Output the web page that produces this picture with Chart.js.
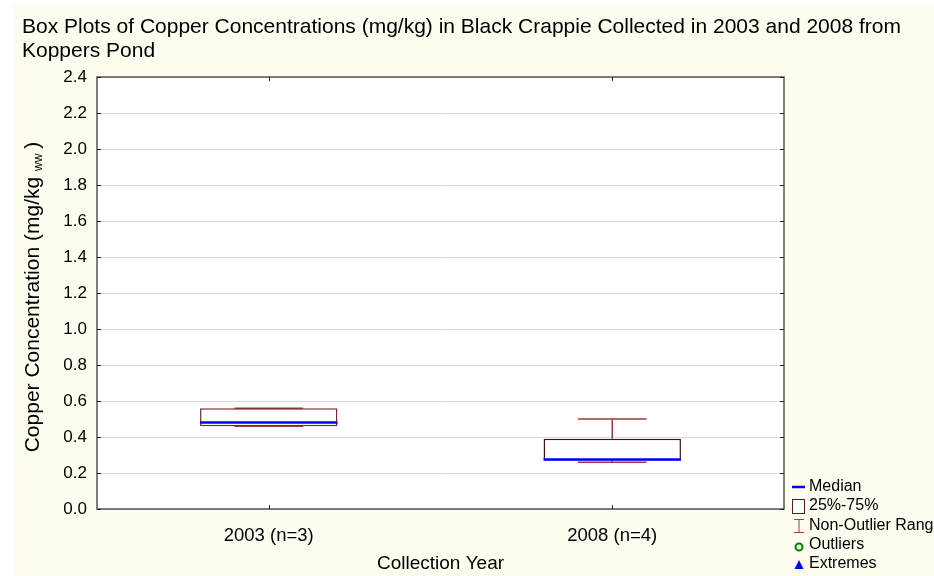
<!DOCTYPE html>
<html>
<head>
<meta charset="utf-8">
<script src="https://cdn.jsdelivr.net/npm/chart.js@4"></script>
<style>
  body { margin: 0; background: #ffffff; }
  #wrap { width: 934px; height: 576px; position: relative; }
</style>
</head>
<body>
<div id="wrap"><canvas id="myChart" width="934" height="576"></canvas></div>
<script>
// Données
const categories = ['2003 (n=3)', '2008 (n=4)'];
const minVals = [0.46, 0.26];
const q1Vals = [0.46, 0.27];
const medianVals = [0.48, 0.275];
const q3Vals = [0.56, 0.39];
const maxVals = [0.56, 0.50];
const yMin = 0, yMax = 2.4, yStep = 0.2;

const FONT = "'Liberation Sans', Arial, sans-serif";
const boxColors = ['#7a2a2a', '#4a0d0d'];
const whiskerColor = '#a03a3a';

// Plugin : fond, cadre, moustaches, médianes, titres et légende
const boxPlotPlugin = {
  id: 'boxPlot',
  beforeDraw(chart) {
    const ctx = chart.ctx, a = chart.chartArea;
    ctx.save();
    ctx.fillStyle = '#fefbef';
    ctx.fillRect(13, 5, chart.width - 13, chart.height - 5);
    ctx.fillStyle = '#ffffff';
    ctx.fillRect(a.left, a.top, a.right - a.left, a.bottom - a.top);
    ctx.restore();
  },
  beforeDatasetsDraw(chart) {
    const ctx = chart.ctx, a = chart.chartArea;
    const x = chart.scales.x, y = chart.scales.y;
    const catW = (a.right - a.left) / categories.length;
    ctx.save();
    // moustaches (sous les boîtes)
    categories.forEach((c, i) => {
      const cx = x.getPixelForValue(i);
      const capW = catW * 0.2;
      ctx.strokeStyle = whiskerColor;
      ctx.lineWidth = 1.5;
      ctx.beginPath();
      ctx.moveTo(cx, y.getPixelForValue(q3Vals[i]));
      ctx.lineTo(cx, y.getPixelForValue(maxVals[i]));
      ctx.moveTo(cx - capW / 2, y.getPixelForValue(maxVals[i]));
      ctx.lineTo(cx + capW / 2, y.getPixelForValue(maxVals[i]));
      ctx.moveTo(cx, y.getPixelForValue(q1Vals[i]));
      ctx.lineTo(cx, y.getPixelForValue(minVals[i]));
      ctx.moveTo(cx - capW / 2, y.getPixelForValue(minVals[i]));
      ctx.lineTo(cx + capW / 2, y.getPixelForValue(minVals[i]));
      ctx.stroke();
    });
    ctx.restore();
  },
  afterDatasetsDraw(chart) {
    const ctx = chart.ctx, a = chart.chartArea;
    const x = chart.scales.x, y = chart.scales.y;
    const catW = (a.right - a.left) / categories.length;
    ctx.save();

    // médianes
    categories.forEach((c, i) => {
      const cx = x.getPixelForValue(i);
      const bw = catW * 0.4;
      ctx.strokeStyle = '#0000ff';
      ctx.lineWidth = 2.5;
      ctx.beginPath();
      ctx.moveTo(cx - bw / 2, y.getPixelForValue(medianVals[i]));
      ctx.lineTo(cx + bw / 2, y.getPixelForValue(medianVals[i]));
      ctx.stroke();
    });

    // cadre et petits traits
    ctx.strokeStyle = '#555555';
    ctx.lineWidth = 1.5;
    ctx.strokeRect(a.left, a.top, a.right - a.left, a.bottom - a.top);
    ctx.strokeStyle = '#222222';
    ctx.lineWidth = 1;
    y.ticks.forEach(t => {
      const py = Math.round(y.getPixelForValue(t.value)) + 0.5;
      ctx.beginPath();
      ctx.moveTo(a.left, py); ctx.lineTo(a.left + 4, py);
      ctx.moveTo(a.right, py); ctx.lineTo(a.right - 4, py);
      ctx.stroke();
    });
    categories.forEach((c, i) => {
      const px = Math.round(x.getPixelForValue(i)) + 0.5;
      ctx.beginPath();
      ctx.moveTo(px, a.top); ctx.lineTo(px, a.top + 4);
      ctx.moveTo(px, a.bottom); ctx.lineTo(px, a.bottom - 4);
      ctx.stroke();
    });
    ctx.restore();
  },
  afterDraw(chart) {
    const ctx = chart.ctx, a = chart.chartArea;
    ctx.save();
    ctx.fillStyle = '#000000';

    // titre
    ctx.font = '21px ' + FONT;
    ctx.textAlign = 'left';
    ctx.textBaseline = 'middle';
    ctx.fillText('Box Plots of Copper Concentrations (mg/kg) in Black Crappie Collected in 2003 and 2008 from', 22, 27);
    ctx.fillText('Koppers Pond', 22, 51);

    // titre axe x
    ctx.font = '19px ' + FONT;
    ctx.textAlign = 'center';
    ctx.fillText('Collection Year', (a.left + a.right) / 2, 564);

    // titre axe y avec indice
    ctx.translate(33, (a.top + a.bottom) / 2 + 4);
    ctx.rotate(-Math.PI / 2);
    const main = 'Copper Concentration (mg/kg ';
    const sub = 'ww';
    const end = ')';
    ctx.font = '21px ' + FONT;
    const w1 = ctx.measureText(main).width;
    const w3 = ctx.measureText(end).width;
    ctx.font = '12px ' + FONT;
    const w2 = ctx.measureText(sub).width + 5;
    let sx = -(w1 + w2 + w3) / 2;
    ctx.textAlign = 'left';
    ctx.font = '21px ' + FONT;
    ctx.fillText(main, sx, 0);
    ctx.font = '12px ' + FONT;
    ctx.fillText(sub, sx + w1, 6);
    ctx.font = '21px ' + FONT;
    ctx.fillText(end, sx + w1 + w2, 0);
    ctx.setTransform(1, 0, 0, 1, 0, 0);

    // légende
    const lx = 792;
    const rows = [487, 506, 526, 545, 564];
    ctx.font = '16px ' + FONT;
    ctx.textAlign = 'left';
    ctx.textBaseline = 'middle';
    const labels = ['Median', '25%-75%', 'Non-Outlier Range', 'Outliers', 'Extremes'];
    labels.forEach((t, i) => ctx.fillText(t, lx + 17, rows[i]));
    ctx.strokeStyle = '#0000ff';
    ctx.lineWidth = 2.5;
    ctx.beginPath(); ctx.moveTo(lx, rows[0]); ctx.lineTo(lx + 13, rows[0]); ctx.stroke();
    ctx.strokeStyle = '#5a1a1a';
    ctx.lineWidth = 1;
    ctx.fillStyle = '#ffffff';
    ctx.fillRect(lx + 0.5, rows[1] - 6.5, 12, 14);
    ctx.strokeRect(lx + 0.5, rows[1] - 6.5, 12, 14);
    ctx.strokeStyle = '#a03a3a';
    ctx.beginPath();
    ctx.moveTo(lx + 2, rows[2] - 6.5); ctx.lineTo(lx + 12, rows[2] - 6.5);
    ctx.moveTo(lx + 7, rows[2] - 6.5); ctx.lineTo(lx + 7, rows[2] + 6.5);
    ctx.moveTo(lx + 2, rows[2] + 6.5); ctx.lineTo(lx + 12, rows[2] + 6.5);
    ctx.stroke();
    ctx.strokeStyle = '#008000';
    ctx.lineWidth = 2;
    ctx.beginPath(); ctx.arc(lx + 7, rows[3] + 2, 3.5, 0, Math.PI * 2); ctx.stroke();
    ctx.fillStyle = '#0000ff';
    ctx.beginPath();
    ctx.moveTo(lx + 7, rows[4] - 4); ctx.lineTo(lx + 11.5, rows[4] + 5); ctx.lineTo(lx + 2.5, rows[4] + 5);
    ctx.closePath(); ctx.fill();
    ctx.restore();
  }
};

const ctx = document.getElementById('myChart').getContext('2d');
new Chart(ctx, {
  type: 'bar',
  data: {
    labels: categories,
    datasets: [{
      label: '25%-75%',
      data: q1Vals.map((v, i) => [v, q3Vals[i]]),
      backgroundColor: '#ffffff',
      borderColor: boxColors,
      borderWidth: 1.5,
      borderSkipped: false,
      barPercentage: 0.4,
      categoryPercentage: 1.0
    }]
  },
  options: {
    responsive: false,
    animation: false,
    layout: { padding: { left: 0, right: 150, top: 77, bottom: 0 } },
    plugins: { legend: { display: false }, tooltip: { enabled: false } },
    scales: {
      x: {
        offset: true,
        grid: { display: false },
        border: { display: false },
        ticks: { color: '#000', font: { family: FONT, size: 18.5 }, padding: 8 },
        afterFit: s => { s.height = 67; }
      },
      y: {
        min: yMin,
        max: yMax,
        grid: { color: '#d9d9d9', drawTicks: false },
        border: { display: false },
        ticks: {
          stepSize: yStep,
          color: '#000',
          font: { family: FONT, size: 17 },
          padding: 10,
          callback: v => Number(v).toFixed(1)
        },
        afterFit: s => { s.width = 97; }
      }
    }
  },
  plugins: [boxPlotPlugin]
});
</script>
</body>
</html>
